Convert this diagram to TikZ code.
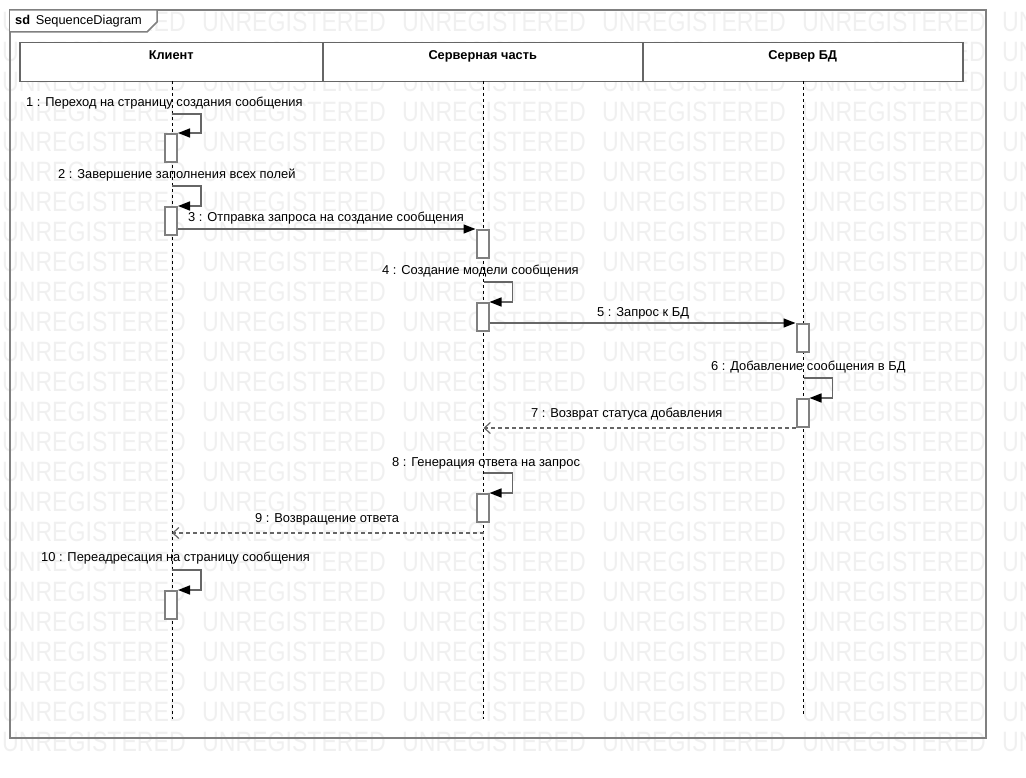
\documentclass[tikz,border=0pt]{standalone}
\usepackage{fontspec}
\setmainfont{Liberation Sans}
\usetikzlibrary{arrows.meta}

\begin{document}
\begin{tikzpicture}[x=1pt, y=-1pt,
    frame/.style={draw=black!50, line width=2pt},
    head/.style={draw=black!60, line width=1.5pt, fill=white, anchor=north west,
      minimum height=39pt, inner ysep=3pt, text height=14pt, text depth=19pt,
      font=\bfseries\fontsize{12.8}{15}\selectfont},
    act/.style={draw=black!50, line width=2pt, fill=white, anchor=north,
      minimum width=12pt, minimum height=28pt, inner sep=0pt},
    life/.style={line width=1pt, dash pattern=on 3pt off 3pt},
    msg/.style={draw=black!60, line width=1.5pt,
      -{Triangle[length=12pt, width=9pt, color=black]}},
    ret/.style={draw=black!60, line width=1.2pt, dash pattern=on 4pt off 3pt,
      -{Straight Barb[length=6pt, width=11pt]}},
    lbl/.style={anchor=west, inner sep=0pt, font=\fontsize{12.9}{15}\selectfont},
    wm/.style={anchor=west, inner sep=0pt, text=black!6, xscale=0.825,
      transform shape, font=\fontsize{28}{28}\selectfont}]
  \useasboundingbox (0,0) rectangle (1026,778);

  % Watermark
  \begin{scope}
    \clip (0,0) rectangle (1026,778);
    \foreach \r in {0,...,24}
      \foreach \c in {0,...,5}
        \node[wm] at (2+200*\c, 22+30*\r) {UNREGISTERED};
  \end{scope}

  % Frame
  \draw[frame] (10,10) rectangle (986,738);
  \draw[frame, line width=1.5pt, fill=white] (10,10) -- (157,10) -- (157,22) -- (147,32) -- (10,32);
  \node[anchor=west, inner sep=0pt, font=\fontsize{12.8}{15}\selectfont] (sd) at (15,21) {\textbf{sd}\, SequenceDiagram};

  % Lifelines
  \node[head, minimum width=303pt] (h1) at (19,42) {Клиент};
  \node[head, minimum width=320pt] (h2) at (322,42) {Серверная часть};
  \node[head, minimum width=320pt] (h3) at (642,42) {Сервер БД};
  \foreach \i/\x/\e in {1/172/719, 2/483.5/719, 3/803.5/714} {
    \coordinate (l\i) at (\x,81);
    \coordinate (e\i) at (\x,\e);
    \draw[life] (l\i) -- (e\i);
  }

  % Activations
  \foreach \n/\x/\y in {1/171/133, 2/171/206, 3/482.5/229, 4/482.5/302,
                        5/802.5/323, 6/802.5/398, 8/482.5/493, 10/171/590}
    \node[act] (a\n) at (\x,\y) {};

  % Self calls
  \foreach \n/\x/\y in {1/172/114, 2/172/186, 4/483.5/282, 6/803.5/378,
                        8/483.5/473, 10/172/570} {
    \coordinate (s\n) at (\x,\y);
    \draw[msg] (s\n) -- ++(29,0) |- (a\n.north east);
  }

  % Calls and returns
  \draw[msg] (a2.east |- a3.north) -- (a3.north west);
  \draw[msg] (a4.east |- a5.north) -- (a5.north west);
  \draw[ret] (a6.south west) -- (a6.south west -| l2);
  \coordinate (r9) at (483.5,533);
  \draw[ret] (r9) -- (r9 -| l1);

  % Labels
  \node[lbl] (m1) at (26,103.5) {1 : Переход на страницу создания сообщения};
  \node[lbl] (m2) at (58,175.5) {2 : Завершение заполнения всех полей};
  \node[lbl] (m3) at (188,218.5) {3 : Отправка запроса на создание сообщения};
  \node[lbl] (m4) at (382,271.5) {4 : Создание модели сообщения};
  \node[lbl] (m5) at (597,313.5) {5 : Запрос к БД};
  \node[lbl] (m6) at (711,367.5) {6 : Добавление сообщения в БД};
  \node[lbl] (m7) at (531,414.5) {7 : Возврат статуса добавления};
  \node[lbl] (m8) at (392,463.5) {8 : Генерация ответа на запрос};
  \node[lbl] (m9) at (255,519.5) {9 : Возвращение ответа};
  \node[lbl] (m10) at (41,558.5) {10 : Переадресация на страницу сообщения};
\end{tikzpicture}
\end{document}
